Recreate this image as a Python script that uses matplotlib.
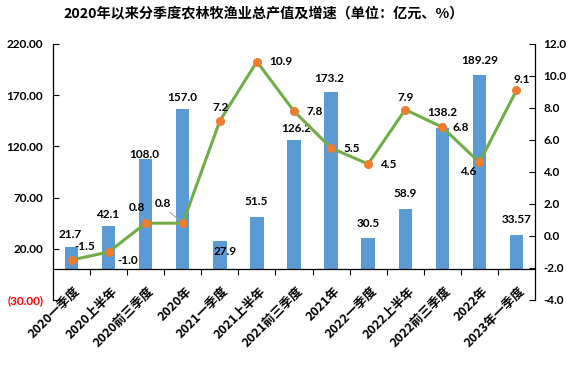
import numpy as np
import matplotlib
matplotlib.use("Agg")
import matplotlib.pyplot as plt

categories = ["2020一季度", "2020上半年", "2020前三季度", "2020年",
              "2021一季度", "2021上半年", "2021前三季度", "2021年",
              "2022一季度", "2022上半年", "2022前三季度", "2022年",
              "2023年一季度"]
output_value = [21.7, 42.1, 108.0, 157.0, 27.9, 51.5, 126.2, 173.2,
                30.5, 58.9, 138.2, 189.29, 33.57]
output_labels = ["21.7", "42.1", "108.0", "157.0", "27.9", "51.5", "126.2",
                 "173.2", "30.5", "58.9", "138.2", "189.29", "33.57"]
growth = [-1.5, -1.0, 0.8, 0.8, 7.2, 10.9, 7.8, 5.5, 4.5, 7.9, 6.8, 4.6, 9.1]
growth_labels = ["-1.5", "-1.0", "0.8", "0.8", "7.2", "10.9", "7.8", "5.5",
                 "4.5", "7.9", "6.8", "4.6", "9.1"]
left_ticks = [-30, 20, 70, 120, 170, 220]
left_tick_labels = ["(30.00)", "20.00", "70.00", "120.00", "170.00", "220.00"]
right_ticks = [-4, -2, 0, 2, 4, 6, 8, 10, 12]
right_tick_labels = ["-4.0", "-2.0", "0.0", "2.0", "4.0", "6.0", "8.0", "10.0", "12.0"]
title = "2020年以来分季度农林牧渔业总产值及增速（单位：亿元、%）"

# label offsets in pixels (style only; +y is up)
bar_label_off = [(-1, 13), (-1, 12), (-1, 4.5), (-1, 11), (5, -10.5), (-1, 15),
                 (2, 12), (-2, 13.5), (0, 15), (0, 15), (0, 15.5), (0, 15), (0, 15.5)]
line_label_off = [(13, 13), (19, -8), (-9, 16), (-20, 20), (1, 13), (24, 0), (21, 0),
                  (21, 0), (20, 0), (0, 12), (18, 0), (-11, -9), (5, 11)]

plt.rcParams['font.family'] = ['Lato', 'Noto Sans CJK SC', 'DejaVu Sans']
cjk = ['Noto Sans CJK SC', 'DejaVu Sans']

W, H = 573, 365
fig = plt.figure(figsize=(W / 100, H / 100), dpi=100)
ax = fig.add_axes([53 / W, 1 - 300 / H, (535 - 53) / W, 256 / H])
x = np.arange(len(categories))

ax.bar(x, output_value, width=0.36, color='#5B9BD5', zorder=2)
ax.set_xlim(-0.5, len(categories) - 0.5)
ax.set_ylim(-30, 220)
ax.set_yticks(left_ticks)
ax.set_yticklabels(left_tick_labels, fontsize=8.5, fontweight='bold')
for t in ax.get_yticklabels():
    if t.get_text().startswith('('):
        t.set_color('#FF0000')
ax.tick_params(axis='y', direction='in', length=4.5, pad=7, width=0.8)
ax.spines['top'].set_visible(False)
ax.spines['right'].set_visible(False)
ax.spines['bottom'].set_position(('data', 0))
for s in ['left', 'bottom']:
    ax.spines[s].set_linewidth(0.9)
    ax.spines[s].set_color('black')
ax.set_xticks(x)
ax.set_xticklabels([])
ax.set_xticks(np.arange(0.5, len(categories) - 1, 1), minor=True)
ax.tick_params(axis='x', which='major', length=0)
ax.tick_params(axis='x', which='minor', length=4.5, direction='out', width=0.8)

for i, (v, lab) in enumerate(zip(output_value, output_labels)):
    dx, dy = bar_label_off[i]
    ax.annotate(lab, (x[i], v), xytext=(dx, dy), textcoords='offset pixels',
                ha='center', va='center', fontsize=8.5, fontweight='bold', zorder=5)

for i, c in enumerate(categories):
    ax.annotate(c, (x[i], 0), xytext=(7, -20), textcoords='offset pixels',
                rotation=45, rotation_mode='anchor', ha='right', va='center',
                fontsize=9, fontweight='bold', family=cjk, annotation_clip=False)

ax2 = ax.twinx()
ax2.set_ylim(-4, 12)
ax2.set_yticks(right_ticks)
ax2.set_yticklabels(right_tick_labels, fontsize=8.5, fontweight='bold')
ax2.tick_params(axis='y', direction='in', length=4.5, pad=6, width=0.8)
for s in ['top', 'left', 'bottom']:
    ax2.spines[s].set_visible(False)
ax2.spines['right'].set_linewidth(0.9)
ax2.spines['right'].set_color('black')

ax2.plot(x, growth, color='#70AD47', lw=2.2, marker='o', ms=5.5,
         mfc='#ED7D31', mec='#ED7D31', zorder=3)
for i, (g, lab) in enumerate(zip(growth, growth_labels)):
    dx, dy = line_label_off[i]
    kw = {}
    if i in (2, 3):
        kw['arrowprops'] = dict(arrowstyle='-', color='#A6A6A6', lw=0.8,
                                shrinkA=1, shrinkB=4, relpos=(0.6, 0.1))
    ax2.annotate(lab, (x[i], g), xytext=(dx, dy), textcoords='offset pixels',
                 ha='center', va='center', fontsize=8.5, fontweight='bold', zorder=5, **kw)

fig.text(264 / W, 1 - 14 / H, title, ha='center', va='center', fontsize=10.2,
         fontweight='bold', family=cjk)

fig.savefig('out.png', dpi=100)
